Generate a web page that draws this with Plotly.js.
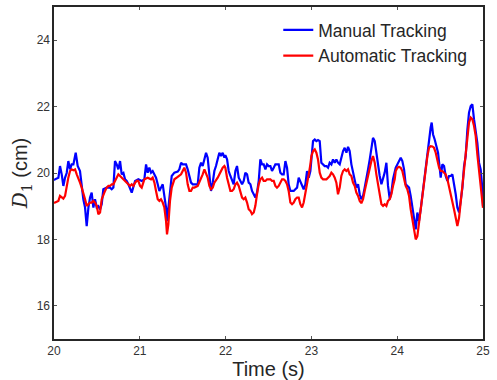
<!DOCTYPE html>
<html>
<head>
<meta charset="utf-8">
<script src="https://cdn.plot.ly/plotly-3.0.1.min.js"></script>
<style>html,body{margin:0;padding:0;background:#fff;}#chart{width:497px;height:380px;}</style>
</head>
<body>
<div id="chart"></div>
<script>
const manualT = [20.0,20.012,20.051,20.070,20.090,20.109,20.129,20.148,20.167,20.187,20.206,20.226,20.253,20.276,20.303,20.323,20.342,20.362,20.381,20.401,20.420,20.439,20.459,20.478,20.498,20.517,20.537,20.556,20.575,20.614,20.653,20.673,20.692,20.711,20.731,20.750,20.770,20.789,20.809,20.828,20.847,20.867,20.886,20.906,20.945,20.983,21.022,
21.053,21.073,21.092,21.111,21.131,21.150,21.170,21.189,21.209,21.228,21.247,21.267,21.286,21.306,21.317,21.333,21.352,21.372,21.403,21.442,21.461,21.481,21.500,21.519,21.539,21.558,21.578,21.597,21.617,21.636,21.655,21.675,21.694,21.714,21.733,21.753,21.772,21.791,21.811,21.830,21.850,21.869,21.888,21.908,21.927,21.947,21.966,21.986,
21.997,22.017,22.036,22.056,22.075,22.094,22.114,22.133,22.153,22.172,22.192,22.211,22.230,22.250,22.269,22.289,22.308,22.328,22.347,22.366,22.386,22.405,22.425,22.444,22.464,22.483,22.502,22.522,22.541,22.561,22.580,22.599,22.619,22.638,22.658,22.677,22.697,22.716,22.735,22.755,22.774,22.794,22.813,22.833,22.852,22.871,22.891,22.910,22.930,22.949,22.969,22.988,
23.000,23.019,23.039,23.058,23.077,23.097,23.116,23.136,23.155,23.175,23.194,23.213,23.233,23.252,23.272,23.291,23.310,23.330,23.349,23.369,23.388,23.408,23.427,23.446,23.466,23.485,23.505,23.524,23.544,23.563,23.582,23.602,23.621,23.641,23.660,23.680,23.699,23.718,23.738,23.757,23.777,23.796,23.816,23.835,23.854,23.874,23.893,23.913,23.932,23.951,23.971,
23.983,24.002,24.021,24.041,24.060,24.080,24.099,24.118,24.138,24.157,24.177,24.196,24.216,24.235,24.254,24.274,24.293,24.313,24.332,24.352,24.371,24.390,24.402,24.418,24.437,24.456,24.476,24.495,24.507,24.526,24.546,24.565,24.585,24.604,24.624,24.643,24.662,24.682,24.701,24.721,24.740,24.760,24.779,24.798,24.818,24.837,24.857,24.876,24.895,24.915,24.934,24.954,24.973,24.993,25.0];
const manualD = [19.78,19.81,19.86,20.21,19.96,19.61,19.86,20.00,20.36,20.11,20.26,20.26,20.61,20.21,20.06,19.56,19.21,18.96,18.40,18.96,19.26,19.41,18.96,19.21,18.96,19.00,18.90,19.06,19.51,19.56,19.56,19.51,19.56,20.36,20.26,20.11,20.36,19.96,20.00,19.81,19.76,19.66,19.56,19.41,19.76,19.81,19.76,
19.81,20.26,20.01,20.16,20.01,20.06,19.96,19.86,19.66,19.46,19.56,19.66,19.31,18.96,18.55,18.96,19.56,19.91,20.01,20.04,20.11,20.31,20.26,20.26,20.26,20.11,19.86,19.71,19.66,19.66,19.66,19.66,20.16,20.31,20.21,20.41,20.61,20.46,20.01,19.46,19.71,20.06,20.21,20.46,20.61,20.51,20.61,20.46,
20.54,20.41,20.06,19.91,19.76,19.66,20.06,20.21,19.86,19.76,19.66,19.76,20.01,19.96,19.71,19.66,19.46,19.36,19.26,19.41,19.76,20.41,20.26,20.26,20.11,20.26,20.21,20.21,20.06,20.16,20.26,20.26,20.26,20.01,19.96,19.96,20.36,20.16,19.66,19.46,19.46,19.46,19.51,19.56,19.86,19.76,19.61,19.51,19.66,20.06,19.86,20.06,
20.41,20.96,21.01,20.96,20.99,20.96,20.31,20.26,20.21,20.21,20.16,20.31,20.26,20.41,20.31,20.41,20.31,20.26,20.46,20.66,20.76,20.61,20.79,20.66,20.26,20.01,19.71,19.56,19.66,19.36,19.21,19.31,19.56,19.91,20.11,20.41,20.71,21.06,20.96,20.56,20.16,19.91,19.66,19.81,20.01,20.31,19.61,19.21,19.41,19.81,20.11,
20.16,20.26,20.36,20.46,20.36,20.11,19.66,19.61,19.56,19.31,19.01,18.60,18.30,18.81,18.55,18.91,19.31,19.71,20.16,20.71,21.01,21.37,21.52,21.16,21.01,20.81,20.61,20.16,19.86,20.26,20.21,19.91,19.76,19.91,19.91,19.96,19.71,19.36,18.96,18.81,19.16,19.56,20.21,20.51,21.31,21.82,22.02,22.07,21.62,21.31,20.91,20.31,20.11,19.51,19.01];

const autoT = [20.0,20.012,20.051,20.070,20.090,20.109,20.129,20.148,20.167,20.187,20.206,20.226,20.245,20.265,20.284,20.303,20.323,20.342,20.362,20.381,20.401,20.420,20.439,20.459,20.478,20.498,20.517,20.537,20.556,20.575,20.595,20.614,20.634,20.653,20.673,20.692,20.711,20.731,20.750,20.770,20.789,20.809,20.828,20.847,20.867,20.886,20.906,20.925,20.945,20.964,20.983,21.003,21.022,
21.034,21.053,21.092,21.131,21.150,21.170,21.189,21.209,21.228,21.247,21.267,21.286,21.306,21.317,21.333,21.352,21.372,21.403,21.442,21.481,21.500,21.519,21.539,21.558,21.578,21.597,21.617,21.636,21.675,21.694,21.714,21.733,21.753,21.772,21.791,21.811,21.830,21.850,21.869,21.908,21.947,21.966,21.986,
21.997,22.017,22.036,22.056,22.075,22.094,22.114,22.133,22.153,22.172,22.192,22.211,22.230,22.250,22.269,22.289,22.308,22.328,22.347,22.366,22.386,22.405,22.425,22.444,22.464,22.483,22.502,22.522,22.541,22.561,22.580,22.599,22.619,22.638,22.658,22.677,22.697,22.716,22.735,22.755,22.774,22.794,22.813,22.833,22.852,22.871,22.891,22.910,22.930,22.949,22.969,22.988,
23.000,23.019,23.039,23.058,23.077,23.097,23.116,23.136,23.155,23.175,23.194,23.213,23.233,23.252,23.272,23.291,23.310,23.330,23.349,23.369,23.388,23.408,23.427,23.446,23.466,23.485,23.505,23.524,23.544,23.563,23.582,23.602,23.621,23.641,23.660,23.680,23.699,23.718,23.738,23.757,23.777,23.796,23.816,23.835,23.854,23.874,23.893,23.913,23.932,23.951,23.971,
23.983,24.002,24.021,24.041,24.060,24.080,24.099,24.118,24.138,24.157,24.177,24.196,24.216,24.235,24.254,24.274,24.293,24.313,24.332,24.352,24.371,24.390,24.410,24.429,24.449,24.468,24.488,24.507,24.526,24.546,24.565,24.585,24.604,24.624,24.643,24.662,24.682,24.701,24.721,24.740,24.760,24.779,24.798,24.818,24.837,24.857,24.876,24.895,24.915,24.934,24.954,24.973,24.993,25.0];
const autoD = [19.10,19.11,19.16,19.31,19.26,19.23,19.31,19.61,19.86,20.06,20.11,20.08,20.11,19.96,19.86,19.71,19.56,19.41,19.21,19.01,19.06,19.11,19.11,19.16,19.11,19.01,18.76,18.81,19.21,19.36,19.46,19.56,19.61,19.61,19.66,19.66,19.76,19.86,19.96,19.91,19.86,19.81,19.76,19.71,19.66,19.61,19.66,19.61,19.71,19.76,19.76,19.61,19.56,
19.66,19.81,19.86,19.81,19.86,19.71,19.46,19.21,19.16,19.21,19.11,18.96,18.55,18.15,18.45,19.16,19.56,19.81,19.88,19.96,20.06,20.16,20.01,19.66,19.46,19.46,19.56,19.56,19.61,19.71,19.86,19.96,20.11,20.01,19.86,19.61,19.51,19.56,19.71,19.86,20.06,20.16,20.21,
20.16,19.86,19.61,19.46,19.46,19.51,19.66,19.71,19.61,19.41,19.26,19.21,19.26,19.11,18.91,18.86,18.76,18.81,19.01,19.36,19.66,19.81,19.86,19.76,19.76,19.81,19.81,19.81,19.76,19.76,19.61,19.56,19.61,19.71,19.81,19.81,19.76,19.66,19.46,19.11,19.06,19.11,19.21,19.26,19.26,19.06,18.96,19.11,19.36,19.66,19.96,20.26,
20.51,20.66,20.71,20.61,20.41,20.01,19.86,19.81,19.82,19.81,19.86,19.91,20.01,19.96,19.86,19.71,19.36,19.56,19.91,20.06,20.11,20.06,20.11,19.96,19.91,19.71,19.61,19.41,19.31,19.16,19.09,19.21,19.46,19.71,19.91,20.11,20.36,20.51,20.31,19.96,19.61,19.31,19.06,19.01,19.06,19.01,19.16,19.21,19.36,19.61,19.81,
20.06,20.16,20.19,20.16,20.06,19.81,19.61,19.51,19.31,18.91,18.60,18.30,18.00,18.10,18.50,18.91,19.31,19.66,20.11,20.51,20.76,20.81,20.80,20.76,20.61,20.36,20.16,20.06,20.06,20.01,19.96,19.81,19.61,19.31,19.11,18.91,18.65,18.40,18.65,19.11,19.71,20.21,20.71,21.11,21.52,21.67,21.62,21.42,21.11,20.56,20.11,19.66,19.21,18.95];

const xTicks = [20, 21, 22, 23, 24, 25];
const yTicks = [16, 18, 20, 22, 24];
const seriesNames = ['Manual Tracking', 'Automatic Tracking'];

const FONT = 'Liberation Sans, Arial, sans-serif';
const traces = [
  {x: manualT, y: manualD, name: seriesNames[0], type: 'scatter', mode: 'lines',
   line: {color: '#0000ff', width: 2.2}},
  {x: autoT, y: autoD, name: seriesNames[1], type: 'scatter', mode: 'lines',
   line: {color: '#ff0000', width: 2.2}}
];
const axisCommon = {
  showgrid: false, zeroline: false, showline: true, mirror: 'ticks',
  linecolor: '#262626', linewidth: 1.6, ticks: 'inside', ticklen: 3,
  tickcolor: '#555555', tickwidth: 1,
  tickfont: {family: FONT, size: 12, color: '#333333'}
};
const layout = {
  width: 497, height: 380,
  margin: {l: 54, r: 14, t: 7, b: 41},
  paper_bgcolor: '#ffffff', plot_bgcolor: '#ffffff',
  showlegend: true,
  legend: {x: 0.975, y: 0.985, xanchor: 'right', yanchor: 'top',
    bgcolor: 'rgba(0,0,0,0)', font: {family: FONT, size: 17.5, color: '#262626'},
    tracegroupgap: 0},
  xaxis: Object.assign({}, axisCommon, {range: [20, 25], tickvals: xTicks,
    ticktext: xTicks.map(String),
    title: {text: 'Time (s)', font: {family: FONT, size: 20, color: '#262626'}, standoff: 1}}),
  yaxis: Object.assign({}, axisCommon, {range: [15, 25], tickvals: yTicks,
    ticktext: yTicks.map(String),
    title: {text: '<span style="font-family:DejaVu Serif"><i>D</i><sub>1</sub></span> (cm)',
      font: {family: FONT, size: 20, color: '#262626'}, standoff: 3}})
};
Plotly.newPlot('chart', traces, layout, {displayModeBar: false, staticPlot: true});
</script>
</body>
</html>
